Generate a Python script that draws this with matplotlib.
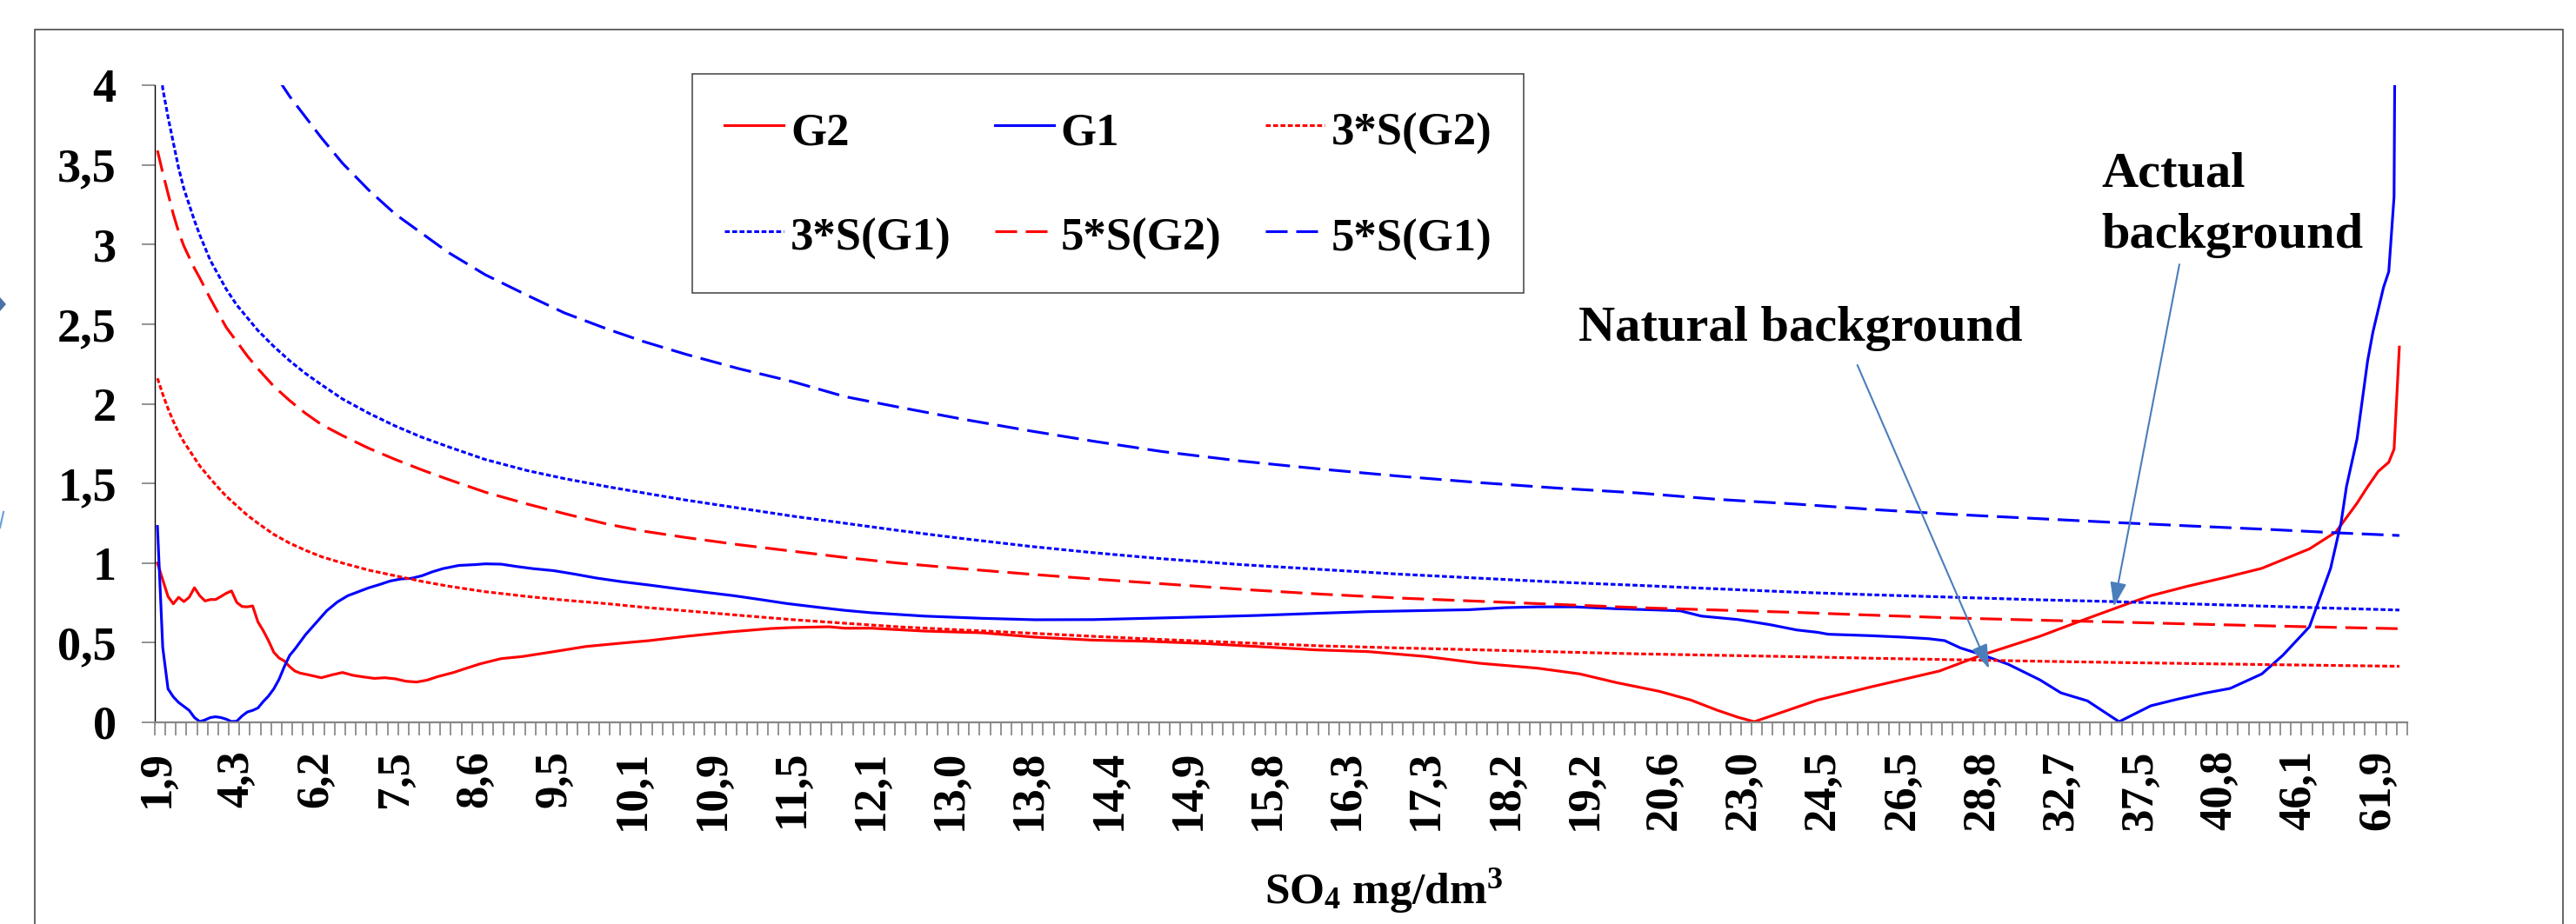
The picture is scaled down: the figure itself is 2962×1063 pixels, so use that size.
import matplotlib
matplotlib.use("Agg")
import matplotlib.pyplot as plt
from matplotlib.patches import Rectangle, Polygon
from matplotlib.lines import Line2D
import numpy as np

# ---------------- data ----------------
n_categories = 426          # sorted SO4 samples on the category axis
label_step = 15             # every 15th category is labelled
tick_step = 2               # a tick mark every 2 categories

x_labels = ['1,9', '4,3', '6,2', '7,5', '8,6', '9,5', '10,1', '10,9', '11,5', '12,1',
            '13,0', '13,8', '14,4', '14,9', '15,8', '16,3', '17,3', '18,2', '19,2',
            '20,6', '23,0', '24,5', '26,5', '28,8', '32,7', '37,5', '40,8', '46,1', '61,9']

y_ticks = [0, 0.5, 1, 1.5, 2, 2.5, 3, 3.5, 4]
y_tick_labels = ['0', '0,5', '1', '1,5', '2', '2,5', '3', '3,5', '4']

# G2 (red solid): (category index, value)
G2 = [(0, 1.00), (2, 0.79), (3, 0.744), (4, 0.785), (5, 0.758), (6, 0.785), (7, 0.845),
      (8, 0.795), (9, 0.762), (10, 0.771), (11, 0.771), (12, 0.79), (13, 0.81), (14, 0.825),
      (15, 0.753), (16, 0.727), (17, 0.725), (18, 0.731), (19, 0.631), (20, 0.576),
      (21, 0.513), (22, 0.44), (23, 0.404), (24, 0.385), (25, 0.35), (26, 0.322),
      (27, 0.309), (29, 0.295), (31, 0.28), (33, 0.298), (35, 0.313), (37, 0.295),
      (39, 0.285), (41, 0.276), (43, 0.28), (45, 0.273), (47, 0.258), (49, 0.253),
      (51, 0.265), (53, 0.287), (56, 0.313), (58, 0.335), (61, 0.367), (65, 0.40),
      (69, 0.413), (75, 0.444), (81, 0.476), (87, 0.495), (93, 0.513), (100, 0.54),
      (108, 0.567), (116, 0.589), (120, 0.595), (127, 0.60), (130, 0.591), (135, 0.591),
      (145, 0.573), (156, 0.562), (166, 0.535), (177, 0.516), (187, 0.509), (198, 0.495),
      (208, 0.476), (219, 0.455), (229, 0.444), (240, 0.413), (250, 0.371), (261, 0.34),
      (269, 0.304), (276, 0.249), (284, 0.195), (290, 0.14), (295, 0.076), (299, 0.031),
      (302, 0.004), (314, 0.14), (324, 0.222), (337, 0.322), (345, 0.422), (356, 0.54),
      (364, 0.64), (373, 0.749), (377, 0.795), (384, 0.855), (391, 0.909), (398, 0.967),
      (407, 1.089), (412, 1.195), (416, 1.376), (418, 1.479), (420, 1.575), (422, 1.633),
      (423, 1.715), (424, 2.356)]

# G1 (blue solid)
G1 = [(0, 1.23), (1, 0.47), (2, 0.21), (3, 0.16), (4, 0.125), (5, 0.10), (6, 0.075),
      (7, 0.03), (8, 0.005), (9, 0.015), (10, 0.03), (11, 0.035), (12, 0.03), (13, 0.02),
      (14, 0.005), (15, 0.007), (16, 0.04), (17, 0.065), (18, 0.075), (19, 0.09),
      (20, 0.13), (21, 0.165), (22, 0.21), (23, 0.27), (24, 0.35), (25, 0.42), (26, 0.46),
      (28, 0.55), (30, 0.625), (32, 0.70), (34, 0.755), (36, 0.795), (38, 0.82),
      (40, 0.845), (42, 0.865), (44, 0.887), (46, 0.90), (48, 0.904), (50, 0.92),
      (52, 0.945), (54, 0.965), (57, 0.985), (60, 0.99), (62, 0.995), (65, 0.993),
      (68, 0.978), (71, 0.965), (75, 0.952), (79, 0.93), (83, 0.906), (88, 0.882),
      (93, 0.862), (98, 0.84), (104, 0.815), (109, 0.795), (114, 0.771), (119, 0.746),
      (125, 0.722), (130, 0.703), (135, 0.688), (145, 0.667), (156, 0.653), (166, 0.644),
      (177, 0.645), (187, 0.653), (198, 0.662), (208, 0.671), (219, 0.684), (229, 0.695),
      (240, 0.702), (248, 0.707), (255, 0.72), (261, 0.725), (268, 0.725), (276, 0.713),
      (284, 0.705), (288, 0.70), (292, 0.667), (299, 0.645), (305, 0.613), (310, 0.58),
      (314, 0.565), (316, 0.553), (324, 0.544), (330, 0.535), (335, 0.525), (338, 0.513),
      (341, 0.467), (345, 0.425), (350, 0.365), (356, 0.267), (360, 0.185), (365, 0.135),
      (371, 0.004), (377, 0.104), (382, 0.145), (387, 0.182), (392, 0.213), (398, 0.304),
      (402, 0.422), (407, 0.60), (411, 0.967), (413, 1.258), (414, 1.48), (416, 1.78),
      (418, 2.27), (419, 2.45), (421, 2.73), (422, 2.83), (423, 3.30), (424, 9.3)]

# the four threshold curves share sample categories
S_idx = [0, 1, 2, 3, 4, 5, 7, 8, 10, 12, 13, 15, 17, 19, 22, 25, 28, 31, 35, 40, 45, 50,
         55, 62, 70, 77, 85, 92, 100, 110, 120, 130, 140, 152, 165, 177, 190, 205, 220,
         235, 250, 265, 280, 295, 310, 325, 340, 355, 370, 385, 400, 412, 424]
S3_G2 = [2.16, 2.06, 1.97, 1.89, 1.82, 1.76, 1.66, 1.61, 1.53, 1.455, 1.42, 1.36, 1.30,
         1.25, 1.18, 1.125, 1.08, 1.04, 1.00, 0.955, 0.92, 0.885, 0.855, 0.82, 0.79, 0.767,
         0.745, 0.722, 0.70, 0.672, 0.645, 0.622, 0.60, 0.58, 0.56, 0.54, 0.52, 0.50, 0.48,
         0.467, 0.455, 0.442, 0.43, 0.421, 0.412, 0.402, 0.393, 0.384, 0.376, 0.369, 0.362,
         0.357, 0.352]
S5_G2 = [3.59, 3.45, 3.32, 3.19, 3.08, 2.99, 2.85, 2.79, 2.66, 2.54, 2.48, 2.39, 2.30,
         2.22, 2.11, 2.02, 1.94, 1.87, 1.80, 1.72, 1.65, 1.585, 1.525, 1.445, 1.37, 1.31,
         1.245, 1.20, 1.16, 1.115, 1.075, 1.035, 1.00, 0.965, 0.93, 0.90, 0.87, 0.835,
         0.805, 0.78, 0.76, 0.74, 0.72, 0.705, 0.69, 0.672, 0.655, 0.642, 0.63, 0.617,
         0.605, 0.596, 0.588]
S3_G1 = [4.32, 3.98, 3.80, 3.64, 3.48, 3.35, 3.15, 3.06, 2.90, 2.78, 2.72, 2.62, 2.54,
         2.46, 2.36, 2.27, 2.19, 2.12, 2.03, 1.94, 1.86, 1.79, 1.73, 1.65, 1.58, 1.53,
         1.48, 1.44, 1.395, 1.345, 1.295, 1.25, 1.205, 1.155, 1.105, 1.065, 1.027, 0.99,
         0.96, 0.93, 0.905, 0.88, 0.86, 0.838, 0.817, 0.80, 0.785, 0.77, 0.758, 0.743,
         0.728, 0.716, 0.705]
S5_G1 = [7.2, 6.9, 6.6, 6.3, 6.05, 5.85, 5.5, 5.35, 5.1, 4.85, 4.75, 4.58, 4.4, 4.25,
         4.08, 3.93, 3.80, 3.67, 3.51, 3.34, 3.19, 3.07, 2.95, 2.81, 2.68, 2.57, 2.47,
         2.39, 2.31, 2.22, 2.14, 2.045, 1.98, 1.905, 1.83, 1.765, 1.70, 1.64, 1.59, 1.545,
         1.505, 1.47, 1.44, 1.40, 1.37, 1.335, 1.305, 1.28, 1.255, 1.232, 1.21, 1.19, 1.173]

# ---------------- styling ----------------
plt.rcParams['font.family'] = ['Liberation Serif', 'DejaVu Serif']
plt.rcParams['font.weight'] = 'bold'
plt.rcParams['mathtext.fontset'] = 'custom'
plt.rcParams['mathtext.rm'] = 'Liberation Serif:bold'
plt.rcParams['mathtext.bf'] = 'Liberation Serif:bold'
plt.rcParams['mathtext.it'] = 'Liberation Serif:bold:italic'

W, H = 2962, 1063
DPI = 100
fig = plt.figure(figsize=(W / DPI, H / DPI), dpi=DPI, facecolor='white')

ax_left, ax_right, ax_top, ax_bottom = 178, 2768, 98, 831
ax = fig.add_axes([ax_left / W, 1 - ax_bottom / H, (ax_right - ax_left) / W,
                   (ax_bottom - ax_top) / H])

RED = '#FF0000'
BLUE = '#0000FF'
LW = 2.25
DOT = (0, (1.8, 0.9))
DASH = (0, (8, 3.2))

def unzip(pairs):
    return [p[0] for p in pairs], [p[1] for p in pairs]

g2x, g2y = unzip(G2)
g1x, g1y = unzip(G1)

l_g2, = ax.plot(g2x, g2y, color=RED, lw=LW, label='G2', solid_joinstyle='round')
l_g1, = ax.plot(g1x, g1y, color=BLUE, lw=LW, label='G1', solid_joinstyle='round')
l_s3g2, = ax.plot(S_idx, S3_G2, color=RED, lw=LW, ls=DOT, label='3*S(G2)')
l_s3g1, = ax.plot(S_idx, S3_G1, color=BLUE, lw=LW, ls=DOT, label='3*S(G1)')
l_s5g2, = ax.plot(S_idx, S5_G2, color=RED, lw=LW, ls=DASH, label='5*S(G2)')
l_s5g1, = ax.plot(S_idx, S5_G1, color=BLUE, lw=LW, ls=DASH, label='5*S(G1)')

ax.set_xlim(-0.5, n_categories - 0.5)
ax.set_ylim(0, 4)

# x axis: tick marks between categories, labels on every 15th category
ax.set_xticks(np.arange(-0.5, n_categories - 0.5 + 0.01, tick_step))
ax.set_xticklabels([])
label_pos = np.arange(0, label_step * len(x_labels), label_step)
ax.set_xticks(label_pos, minor=True)
ax.set_xticklabels(x_labels, minor=True, rotation=90, fontsize=38, fontweight='bold')
ax.tick_params(axis='x', which='major', direction='out', length=10.8, width=1.2,
               color='#808080')
ax.tick_params(axis='x', which='minor', length=0, pad=23)

ax.set_yticks(y_ticks)
ax.set_yticklabels(y_tick_labels, fontsize=39, fontweight='bold')
ax.tick_params(axis='y', direction='out', length=10.8, width=1.2, color='#808080', pad=21)

for s in ['top', 'right']:
    ax.spines[s].set_visible(False)
ax.spines['bottom'].set_color('#868686')
ax.spines['bottom'].set_linewidth(1.6)
ax.spines['left'].set_color('black')
ax.spines['left'].set_linewidth(1.0)

# x axis title
fig.text(1591 / W, 1 - 1039 / H, 'SO$_4$ mg/dm$^3$', ha='center', va='baseline',
         fontsize=37, fontweight='bold')

# legend (3 columns, filled row-wise as in the reference)
handles = [l_g2, l_s3g1, l_g1, l_s5g2, l_s3g2, l_s5g1]
leg = ax.legend(handles=handles, labels=[h.get_label() for h in handles], ncol=3,
                loc='upper left', bbox_to_anchor=(796 / W, 1 - 85 / H),
                bbox_transform=fig.transFigure, borderaxespad=0,
                prop={'family': 'Liberation Serif', 'weight': 'bold', 'size': 38},
                handlelength=1.29, handletextpad=0.15, columnspacing=0.95,
                handleheight=1.2, borderpad=0.7, labelspacing=1.24, fancybox=False,
                framealpha=1, edgecolor='#404040')
leg.get_frame().set_linewidth(1.1)

# annotations
ARROW = '#4A7EBB'
ax.text(310.7, 2.393, 'Natural background', ha='center', va='baseline', fontsize=42,
        fontweight='bold')
ax.text(367.6, 3.362, 'Actual', ha='left', va='baseline', fontsize=42, fontweight='bold')
ax.text(367.6, 2.978, 'background', ha='left', va='baseline', fontsize=42,
        fontweight='bold')
arrow_kw = dict(arrowstyle='-|>,head_length=0.65,head_width=0.22', color=ARROW, lw=1.5,
                shrinkA=0, shrinkB=0, mutation_scale=26)
ax.annotate('', xy=(346.4, 0.337), xytext=(321.5, 2.243), arrowprops=arrow_kw)
ax.annotate('', xy=(370.0, 0.727), xytext=(382.4, 2.875), arrowprops=arrow_kw)

# outer chart-area border (bottom edge lies outside the crop)
fig.patches.append(Rectangle((40 / W, -0.05), (2947 - 40) / W, (H - 34) / H + 0.05,
                             transform=fig.transFigure, fill=False, edgecolor='#3a3a3a',
                             linewidth=1.1))
# cropped fragments at the far left edge
fig.patches.append(Polygon([(0, 1 - 342 / H), (7 / W, 1 - 350 / H), (0, 1 - 358 / H)],
                           closed=True, transform=fig.transFigure, facecolor='#4A72A8',
                           edgecolor='none'))
fig.lines.append(Line2D([0, 4 / W], [1 - 607 / H, 1 - 589 / H], transform=fig.transFigure,
                        color='#6FA0D8', lw=1.6))

fig.savefig('out.png', dpi=DPI, facecolor='white')
